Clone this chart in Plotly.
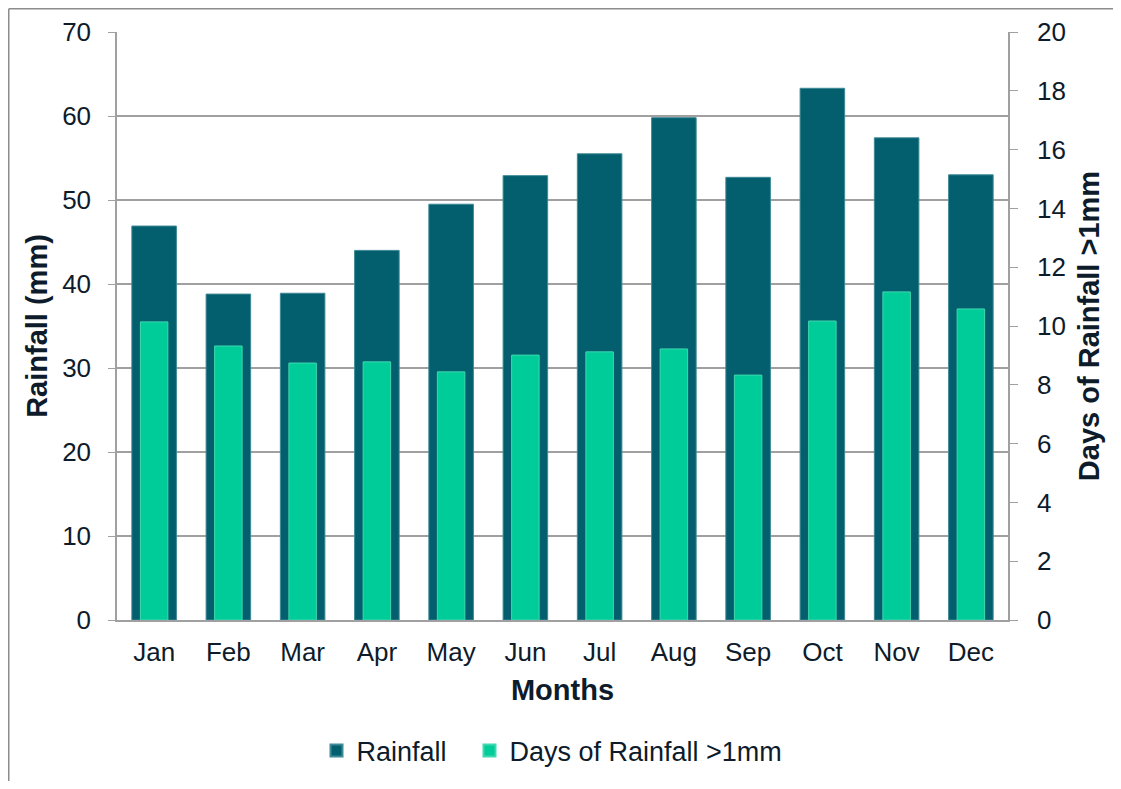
import plotly.graph_objects as go

months = ["Jan", "Feb", "Mar", "Apr", "May", "Jun", "Jul", "Aug", "Sep", "Oct", "Nov", "Dec"]
rainfall_mm = [46.9, 38.8, 38.9, 44.0, 49.5, 52.9, 55.5, 59.8, 52.7, 63.3, 57.4, 53.0]
rain_days = [10.14, 9.32, 8.74, 8.78, 8.44, 9.01, 9.12, 9.22, 8.33, 10.17, 11.16, 10.58]

dark = "#035E6D"
green = "#00CC99"
txt = "#0D1B2A"
grid = "#A0A0A0"

fig = go.Figure()
fig.add_trace(go.Bar(x=months, y=rainfall_mm, name="Rainfall", width=0.6, legendwidth=108,
                     marker=dict(color=dark, line=dict(color="#3E8A96", width=1)),
                     yaxis="y"))
fig.add_trace(go.Bar(x=months, y=rain_days, name="Days of Rainfall >1mm", width=0.37,
                     marker=dict(color=green, line=dict(color="#3FD8B0", width=1)),
                     yaxis="y2"))

# page body has an 8px margin: compensate so the picture lands where the reference is,
# and keep the figure small enough that the page does not scroll
OFF = 8
W, H = 1121 - 2 * OFF, 789 - 2 * OFF
L, R, T, B = 117 - OFF, 1008 - OFF, 32 - OFF, 620 - OFF
pw, ph = R - L, B - T

bx = (0.75 - L) / pw
by = (B - 0.75) / ph
fig.update_layout(
    width=W, height=H,
    margin=dict(l=L, r=W - R, t=T, b=H - B, autoexpand=False),
    paper_bgcolor="white", plot_bgcolor="white",
    barmode="overlay",
    font=dict(family="Liberation Sans, Arial", size=26, color=txt),
    xaxis=dict(title=dict(text="<b>Months</b>", font=dict(size=29), standoff=14),
               showline=True, linecolor=grid, linewidth=1.5, ticks="", tickfont=dict(size=26),
               ticklabelstandoff=8, range=[-0.5, 11.5], automargin=False),
    yaxis=dict(title=dict(text="<b>Rainfall (mm)</b>", font=dict(size=29), standoff=6),
               range=[0, 70], dtick=10, showgrid=True, gridcolor=grid, gridwidth=1.5,
               showline=True, linecolor=grid, linewidth=1.5, ticks="outside", ticklen=7,
               tickcolor=grid, zeroline=False, ticklabelstandoff=12, automargin=False),
    yaxis2=dict(title=dict(text="<b>Days of Rainfall >1mm</b>", font=dict(size=29), standoff=14),
                overlaying="y", side="right", range=[0, 20], dtick=2, showgrid=False,
                showline=True, linecolor=grid, linewidth=1.5, ticks="outside", ticklen=8,
                tickcolor=grid, zeroline=False, ticklabelstandoff=14, automargin=False),
    legend=dict(orientation="h", x=(552 - 117) / 891, xanchor="center", y=(620 - 751) / ph,
                yanchor="middle", font=dict(size=27), itemsizing="constant", traceorder="normal"),
    shapes=[
        dict(type="line", xref="paper", yref="paper", x0=bx, x1=(W - L) / pw, y0=by, y1=by,
             line=dict(color="#8C8C8C", width=1.5), layer="below"),
        dict(type="line", xref="paper", yref="paper", x0=bx, x1=bx, y0=by, y1=(B - H) / ph,
             line=dict(color="#8C8C8C", width=1.5), layer="below"),
    ],
)

fig.write_html("out.html")
